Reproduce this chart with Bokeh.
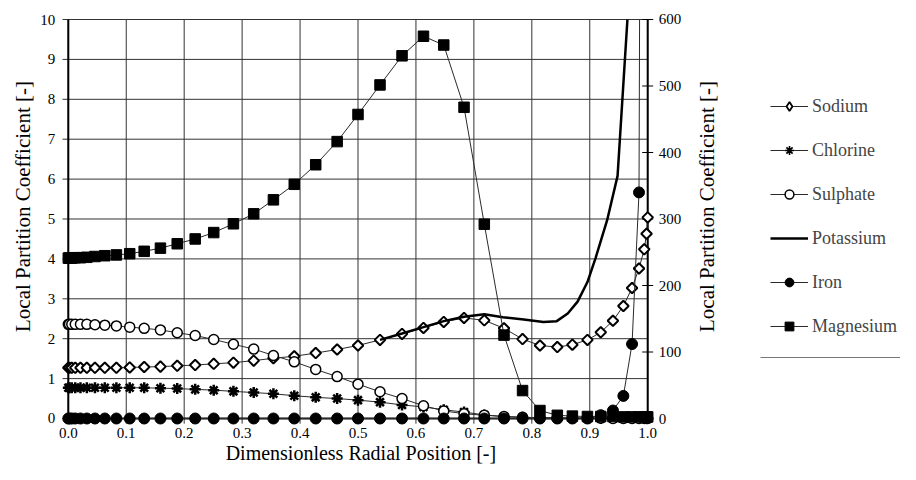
from bokeh.plotting import figure
from bokeh.models import (Range1d, ColumnDataSource, LabelSet, Label, Legend,
                          LegendItem, BoxAnnotation)
from bokeh.core.properties import value
from bokeh.embed import file_html
from bokeh.resources import INLINE
import numpy as np

# ---------------- data ----------------
x_pos = [0.000, 0.002, 0.006, 0.012, 0.021, 0.032, 0.046, 0.063, 0.083, 0.106,
         0.131, 0.159, 0.188, 0.219, 0.251, 0.285, 0.320, 0.354, 0.390, 0.427,
         0.464, 0.500, 0.538, 0.576, 0.613, 0.648, 0.683, 0.718, 0.752, 0.784,
         0.814, 0.844, 0.870, 0.896, 0.919, 0.940, 0.958, 0.973, 0.985, 0.994,
         0.998, 1.000]

sodium = [1.27, 1.27, 1.27, 1.27, 1.27, 1.27, 1.27, 1.27, 1.27, 1.28,
          1.29, 1.30, 1.32, 1.34, 1.37, 1.40, 1.45, 1.51, 1.56, 1.64,
          1.73, 1.83, 1.97, 2.12, 2.27, 2.42, 2.52, 2.46, 2.26, 1.99,
          1.83, 1.79, 1.85, 1.97, 2.16, 2.45, 2.82, 3.27, 3.76, 4.24,
          4.63, 5.04]

chlorine = [0.77, 0.77, 0.77, 0.77, 0.77, 0.77, 0.77, 0.77, 0.77, 0.77,
            0.77, 0.76, 0.75, 0.73, 0.71, 0.68, 0.65, 0.62, 0.57, 0.53,
            0.50, 0.46, 0.41, 0.34, 0.29, 0.22, 0.16, 0.09, 0.05, 0.03,
            0.02, 0.01, 0.01, 0.01, 0.00, 0.00, 0.00, 0.00, 0.00, 0.00,
            0.00, 0.00]

sulphate = [2.36, 2.36, 2.36, 2.36, 2.36, 2.36, 2.35, 2.34, 2.32, 2.29,
            2.26, 2.22, 2.15, 2.08, 1.98, 1.86, 1.74, 1.58, 1.42, 1.23,
            1.05, 0.86, 0.67, 0.50, 0.32, 0.19, 0.12, 0.08, 0.05, 0.03,
            0.02, 0.01, 0.01, 0.01, 0.01, 0.00, 0.00, 0.00, 0.00, 0.00,
            0.00, 0.00]

magnesium = [4.02, 4.02, 4.02, 4.03, 4.03, 4.04, 4.06, 4.08, 4.10, 4.13,
             4.19, 4.27, 4.38, 4.50, 4.66, 4.88, 5.13, 5.48, 5.87, 6.36,
             6.94, 7.62, 8.36, 9.09, 9.58, 9.36, 7.80, 4.87, 2.09, 0.70,
             0.20, 0.08, 0.06, 0.05, 0.05, 0.05, 0.04, 0.04, 0.04, 0.04,
             0.04, 0.04]

# iron read against the right-hand axis (0-600)
iron = [0, 0, 0, 0, 0, 0, 0, 0, 0, 0,
        0, 0, 0, 0, 0, 0, 0, 0, 0, 0,
        0, 0, 0, 0, 0, 0, 0, 0, 0, 0,
        0, 0, 0, 0, 5, 12, 34, 112, 340]
# where the iron line leaves the chart at the top edge
iron_exit_x = [0.986]
iron_exit = [600]

# potassium: solid line without markers (leaves the chart at the top edge)
potassium_x = [0.538, 0.576, 0.613, 0.648, 0.683, 0.718, 0.750, 0.786, 0.820,
               0.843, 0.862, 0.879, 0.896, 0.910, 0.930, 0.948, 0.965]
potassium = [1.97, 2.13, 2.29, 2.44, 2.55, 2.61, 2.54, 2.48, 2.42,
             2.44, 2.63, 2.93, 3.42, 4.02, 4.97, 6.08, 10.0]

x_ticks = [0.0, 0.1, 0.2, 0.3, 0.4, 0.5, 0.6, 0.7, 0.8, 0.9, 1.0]
x_tick_labels = ["0.0", "0.1", "0.2", "0.3", "0.4", "0.5", "0.6", "0.7", "0.8", "0.9", "1.0"]
y_ticks = [0, 1, 2, 3, 4, 5, 6, 7, 8, 9, 10]
y_tick_labels = ["0", "1", "2", "3", "4", "5", "6", "7", "8", "9", "10"]
y2_ticks = [0, 100, 200, 300, 400, 500, 600]
y2_tick_labels = ["0", "100", "200", "300", "400", "500", "600"]

FONT = "Liberation Serif"
LINE = "#2a2a2a"
GRID = "#333333"
Y_TITLE = "Local Partition Coefficient [-]"
X_TITLE = "Dimensionless Radial Position [-]"

# ---------------- figure (frame = whole canvas) ----------------
X0, X1 = x_ticks[0], x_ticks[-1]
Y0, Y1 = y_ticks[0], y_ticks[-1]
p = figure(width=900, height=464, output_backend="svg", toolbar_location=None,
           x_range=Range1d(-0.11702, 1.43631), y_range=Range1d(-1.1529, 10.4762),
           x_axis_type=None, y_axis_type=None,
           min_border_left=0, min_border_right=0, min_border_top=0, min_border_bottom=0)
p.outline_line_color = None
p.grid.visible = False
p.background_fill_color = "white"
p.border_fill_color = "white"
p.extra_y_ranges = {"right": Range1d(-69.17, 628.57)}

# grid lines (small overhang beyond the axes acts as tick marks)
p.segment(x0=[X0 - 0.01] * len(y_ticks), x1=[X1] * len(y_ticks), y0=y_ticks, y1=y_ticks,
          line_color=GRID, line_width=1)
p.segment(x0=x_ticks, x1=x_ticks, y0=[Y0 - 0.13] * len(x_ticks), y1=[Y1] * len(x_ticks),
          line_color=GRID, line_width=1)
# axis lines
p.segment(x0=[X0, X0, X1], x1=[X0, X1, X1], y0=[Y0, Y0, Y0], y1=[Y1, Y0, Y1],
          line_color="black", line_width=2)
# right-axis tick marks
p.scatter(x=[X1] * len(y2_ticks), y=y2_ticks, marker="dash", size=11,
          line_color="black", line_width=1, y_range_name="right")

# ---------------- series ----------------
na_l = p.line(x_pos, sodium, line_color=LINE, line_width=1)
na_m = p.scatter(x_pos, sodium, marker="square", angle=0.7853981634, size=7.5,
                 fill_color="white", line_color="black", line_width=2)

cl_l = p.line(x_pos, chlorine, line_color=LINE, line_width=1)
cl_m = p.scatter(x_pos, chlorine, marker="asterisk", size=11,
                 line_color="black", line_width=2.5)

so_l = p.line(x_pos, sulphate, line_color=LINE, line_width=1)
so_m = p.scatter(x_pos, sulphate, marker="circle", size=10,
                 fill_color="white", line_color="black", line_width=1.5)

k_l = p.line(potassium_x, potassium, line_color="black", line_width=2.5)

fe_x = x_pos[:len(iron)]
fe_l = p.line(fe_x + iron_exit_x, iron + iron_exit, line_color=LINE, line_width=1,
              y_range_name="right")
fe_m = p.scatter(fe_x, iron, marker="circle", size=11, fill_color="black",
                 line_color="black", y_range_name="right")

mg_l = p.line(x_pos, magnesium, line_color=LINE, line_width=1)
mg_m = p.scatter(x_pos, magnesium, marker="square", size=10.5, fill_color="black",
                 line_color="black")

# legend-only marker renderers (a single NaN point: never drawn in the chart)
nan_pt = np.array([np.nan])
lg_na = p.scatter(x=nan_pt, y=nan_pt, marker="diamond", fill_color="white",
                  line_color="black", line_width=1.8)
lg_cl = p.scatter(x=nan_pt, y=nan_pt, marker="asterisk", line_color="black",
                  line_width=1.6)

# ---------------- tick labels ----------------
tick_font = dict(text_font=value(FONT), text_font_size=value("15px"),
                 text_color="black", level="overlay")
left_src = ColumnDataSource(dict(x=[X0] * len(y_ticks), y=y_ticks, t=y_tick_labels))
p.add_layout(LabelSet(x="x", y="y", text="t", source=left_src, x_offset=-13,
                      text_align="right", text_baseline="middle", **tick_font))
bottom_src = ColumnDataSource(dict(x=x_ticks, y=[Y0] * len(x_ticks), t=x_tick_labels))
p.add_layout(LabelSet(x="x", y="y", text="t", source=bottom_src, y_offset=-19.5,
                      text_align="center", text_baseline="alphabetic", **tick_font))
right_src = ColumnDataSource(dict(x=[X1] * len(y2_ticks), y=y2_ticks, t=y2_tick_labels))
p.add_layout(LabelSet(x="x", y="y", text="t", source=right_src, x_offset=11,
                      y_range_name="right",
                      text_align="left", text_baseline="middle", **tick_font))

# ---------------- axis titles ----------------
title_kw = dict(text_font=FONT, text_font_size="21px", text_color="black",
                level="overlay")
p.add_layout(Label(x=0.505, y=Y0, y_offset=-45.5, text=X_TITLE,
                   text_align="center", text_baseline="bottom",
                   text_font=FONT, text_font_size="20px", text_color="black",
                   level="overlay"))
p.add_layout(Label(x=-0.0782, y=5.313, text=Y_TITLE, angle=90, angle_units="deg",
                   text_align="center", text_baseline="middle", **title_kw))
p.add_layout(Label(x=1.1015, y=5.313, text=Y_TITLE, angle=90, angle_units="deg",
                   text_align="center", text_baseline="middle", **title_kw))

# ---------------- legend ----------------
legend = Legend(items=[
    LegendItem(label="Sodium", renderers=[na_l, lg_na]),
    LegendItem(label="Chlorine", renderers=[cl_l, lg_cl]),
    LegendItem(label="Sulphate", renderers=[so_l, so_m]),
    LegendItem(label="Potassium", renderers=[k_l]),
    LegendItem(label="Iron", renderers=[fe_l, fe_m]),
    LegendItem(label="Magnesium", renderers=[mg_l, mg_m]),
], location=(770, 127), orientation="vertical",
    label_text_font=FONT, label_text_font_size="18px",
    glyph_width=38, glyph_height=22, label_height=22, spacing=22,
    padding=0, margin=0, label_standoff=4,
    border_line_color=None, background_fill_alpha=0)
p.add_layout(legend, "center")

# thin rule under the legend
p.add_layout(BoxAnnotation(left=760, right=900, bottom=106.5, top=107.5,
                           left_units="screen", right_units="screen",
                           bottom_units="screen", top_units="screen",
                           fill_color="#777777", fill_alpha=1.0, line_color=None))

open("out.html", "w").write(file_html(p, INLINE))
